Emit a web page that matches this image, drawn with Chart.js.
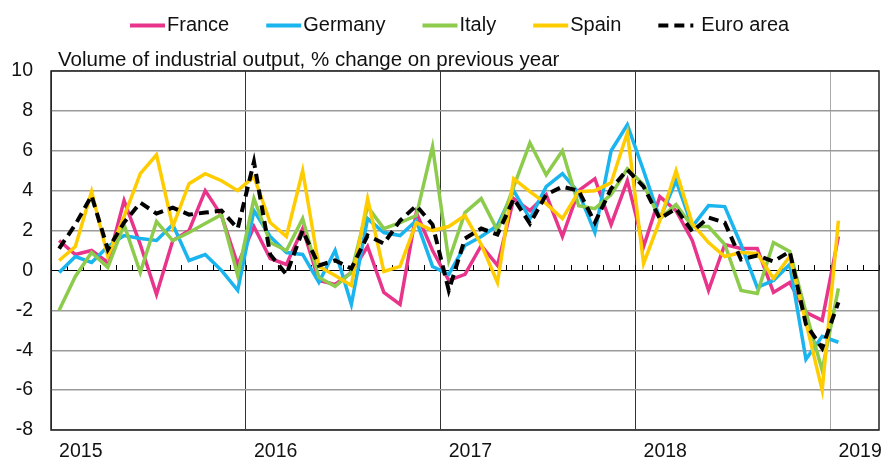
<!DOCTYPE html>
<html><head><meta charset="utf-8">
<script src="https://cdn.jsdelivr.net/npm/chart.js@4.4.1/dist/chart.umd.min.js"></script>
<style>html,body{margin:0;padding:0;background:#fff;}#wrap{width:884px;height:463px;}</style>
</head><body><div id="wrap"><canvas id="c" width="884" height="463"></canvas></div>
<script>
const months = [
 '2015-01','2015-02','2015-03','2015-04','2015-05','2015-06','2015-07','2015-08','2015-09','2015-10','2015-11','2015-12',
 '2016-01','2016-02','2016-03','2016-04','2016-05','2016-06','2016-07','2016-08','2016-09','2016-10','2016-11','2016-12',
 '2017-01','2017-02','2017-03','2017-04','2017-05','2017-06','2017-07','2017-08','2017-09','2017-10','2017-11','2017-12',
 '2018-01','2018-02','2018-03','2018-04','2018-05','2018-06','2018-07','2018-08','2018-09','2018-10','2018-11','2018-12',
 '2019-01','2019-02','2019-03'];
const yearLabels = ['2015','2016','2017','2018','2019'];
const seriesNames = ['France','Germany','Italy','Spain','Euro area'];
const france  = [1.5,0.8,1.0,0.4,3.5,1.3,-1.2,1.5,2.0,4.0,2.75,0.3, 2.2,0.6,0.3,2.1,-0.5,-0.7,-0.1,1.2,-1.1,-1.7,2.9,1.0, -0.5,-0.2,1.25,0.25,3.6,3.0,3.8,1.7,4.0,4.6,2.3,4.5, 1.2,3.7,3.0,1.5,-1.0,1.3,1.1,1.1,-1.1,-0.6,-2.1,-2.5, 1.7];
const germany = [-0.1,0.7,0.4,1.2,1.75,1.6,1.5,2.3,0.5,0.8,0.0,-1.0, 3.0,1.7,0.9,0.8,-0.6,1.0,-1.7,2.6,1.9,1.75,2.5,0.2, -0.2,1.25,1.7,2.25,4.0,2.6,4.2,4.85,3.9,1.9,6.0,7.3, 5.0,2.6,4.5,2.2,3.25,3.2,1.3,-0.85,-0.5,0.3,-4.45,-3.3, -3.6];
const italy   = [-2.0,-0.3,0.9,0.15,2.3,-0.1,2.45,1.5,1.9,2.35,2.8,-0.25, 3.6,1.4,1.0,2.6,-0.35,-0.8,-0.1,3.2,2.1,2.4,2.75,6.2, 0.5,2.9,3.6,2.0,4.2,6.4,4.8,6.0,3.25,3.1,3.8,5.1, 4.3,2.6,3.3,2.2,2.2,1.3,-1.0,-1.15,1.4,0.95,-2.1,-5.0, -0.9];
const spain   = [0.5,1.2,3.95,0.7,2.7,4.85,5.8,2.2,4.35,4.85,4.5,4.0, 4.7,2.4,1.7,5.0,0.2,-0.25,-0.75,3.6,-0.05,0.2,2.4,2.0, 2.2,2.75,1.3,-0.6,4.6,3.95,3.35,2.6,3.95,4.0,4.4,6.9, 0.35,2.5,5.0,2.35,1.4,0.7,0.9,0.85,-0.4,0.7,-2.6,-6.0, 2.5];
const euroArea= [1.1,2.3,3.75,1.05,2.4,3.4,2.85,3.15,2.8,2.9,3.0,2.1, 5.45,0.8,-0.2,2.0,0.25,0.5,0.1,1.75,1.35,2.5,3.25,2.3, -1.0,1.6,2.1,1.8,3.6,2.35,3.8,4.2,4.0,2.4,4.1,5.05, 4.2,2.6,3.1,1.95,2.65,2.4,0.55,0.75,0.45,0.95,-2.7,-3.9, -1.6];
const titleText = 'Volume of industrial output, % change on previous year';

const FONT = "'Liberation Sans', Arial, sans-serif";
const colors = ['#E8358B','#1AB4EE','#8DCB4C','#FFCC00','#000000'];

const decor = {
  id: 'decor',
  beforeDatasetsDraw(chart) {
    const {ctx, chartArea: a, scales} = chart;
    const y0 = scales.y.getPixelForValue(0);
    const n = chart.data.labels.length;
    const w = (a.right - a.left) / n;
    ctx.save();
    ctx.strokeStyle = '#000'; ctx.lineWidth = 1;
    ctx.beginPath();
    for (let k = 0; k <= n; k++) {
      const x = Math.round(a.left + k * w) + 0.5;
      ctx.moveTo(x, Math.round(y0) + 0.5); ctx.lineTo(x, Math.round(y0) - 5);
    }
    ctx.stroke();
    ctx.restore();
  },
  afterDraw(chart) {
    const {ctx, chartArea: a} = chart;
    ctx.save();
    ctx.strokeStyle = '#222'; ctx.lineWidth = 1.5;
    ctx.strokeRect(a.left, a.top, a.right - a.left, a.bottom - a.top);
    // title
    ctx.fillStyle = '#111';
    ctx.font = '20.5px ' + FONT;
    ctx.textBaseline = 'alphabetic'; ctx.textAlign = 'left';
    ctx.fillText(titleText, a.left + 7, a.top - 5.5);
    // legend
    ctx.font = '20px ' + FONT;
    ctx.textBaseline = 'middle';
    let x = 130; const y = 25.5, lineLen = 35, gap = 2, spacing = 37;
    chart.data.datasets.forEach(ds => {
      ctx.strokeStyle = ds.borderColor; ctx.lineWidth = 4;
      ctx.setLineDash(ds.borderDash || []);
      ctx.beginPath(); ctx.moveTo(x, y); ctx.lineTo(x + lineLen, y); ctx.stroke();
      ctx.setLineDash([]);
      x += lineLen + gap + (ds.borderDash ? 6 : 0);
      ctx.fillStyle = '#111';
      ctx.fillText(ds.label, x, y);
      x += ctx.measureText(ds.label).width + spacing;
    });
    ctx.restore();
  }
};

const mk = (i, data, order, extra) => Object.assign({
  label: seriesNames[i], data, borderColor: colors[i], backgroundColor: colors[i],
  borderWidth: 3.5, pointRadius: 0, tension: 0, fill: false, order
}, extra || {});

new Chart(document.getElementById('c'), {
  type: 'line',
  data: {
    labels: months,
    datasets: [
      mk(0, france, 5), mk(1, germany, 4), mk(2, italy, 3), mk(3, spain, 2),
      mk(4, euroArea, 1, {borderDash: [10, 6], borderWidth: 4})
    ]
  },
  plugins: [decor],
  options: {
    responsive: false, animation: false, devicePixelRatio: 1,
    layout: {padding: {top: 71, right: 5, left: 0, bottom: 0}},
    plugins: {legend: {display: false}, title: {display: false}, tooltip: {enabled: false}},
    scales: {
      x: {
        type: 'category', offset: true,
        afterFit(s) { s.height = 33; },
        border: {display: false},
        grid: {
          offset: true, drawTicks: false,
          color: c => (c.index % 12 === 0 && c.index < months.length) ? (c.index === 48 ? '#aaaaaa' : '#333333') : 'rgba(0,0,0,0)',
          lineWidth: 1
        },
        ticks: {
          autoSkip: false, maxRotation: 0, minRotation: 0, align: 'start', padding: 10,
          color: '#111', font: {family: FONT, size: 19.5},
          callback: (v, i) => (i % 12 === 0 ? yearLabels[i / 12] : '')
        }
      },
      y: {
        min: -8, max: 10,
        afterFit(s) { s.width = 51; },
        border: {display: false},
        grid: {
          drawTicks: false,
          color: c => c.tick && c.tick.value === 0 ? '#000' : '#9a9a9a',
          lineWidth: c => c.tick && c.tick.value === 0 ? 1 : 1.4
        },
        ticks: {stepSize: 2, padding: 18, color: '#111', font: {family: FONT, size: 19.5}}
      }
    }
  }
});
</script></body></html>
